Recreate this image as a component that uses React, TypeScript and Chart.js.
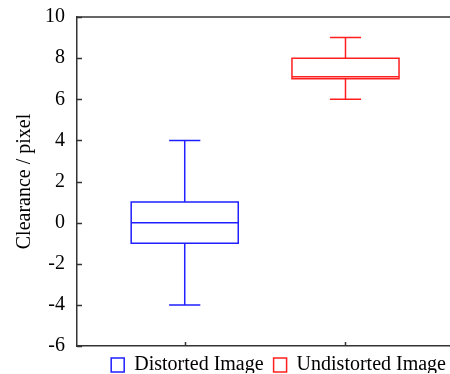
import React, { useEffect, useRef } from "react";
import { Chart, registerables } from "chart.js";

Chart.register(...registerables);

// ---- data ----
const categories = ["Distorted Image", "Undistorted Image"];
const whiskerLow = [-4, 6];
const q1 = [-1, 7];
const median = [0, 7.1];
const q3 = [1, 8];
const whiskerHigh = [4, 9];
const yTicks = [-6, -4, -2, 0, 2, 4, 6, 8, 10];

const colors = ["#1f1fff", "#ff1f1f"];
const axisColor = "#333333";
const FONT = "'Liberation Serif', 'Times New Roman', serif";

const boxPlugin = {
  id: "boxPlot",
  afterLayout(chart: any) {
    // nudge the legend row to the right, as in the reference
    if (chart.legend) {
      chart.legend.left += 6;
      chart.legend.right += 6;
    }
  },
  afterDatasetsDraw(chart: any) {
    const { ctx, chartArea } = chart;
    const xs = chart.scales.x;
    const ys = chart.scales.y;
    ctx.save();
    // top border line
    ctx.strokeStyle = axisColor;
    ctx.lineWidth = 1.5;
    ctx.beginPath();
    ctx.moveTo(chartArea.left, chartArea.top);
    ctx.lineTo(chartArea.right, chartArea.top);
    ctx.stroke();
    // inward ticks on y axis
    ys.ticks.forEach((t: any) => {
      const y = Math.round(ys.getPixelForValue(t.value)) + 0.5;
      ctx.beginPath();
      ctx.moveTo(chartArea.left, y);
      ctx.lineTo(chartArea.left + 5, y);
      ctx.stroke();
    });
    // inward ticks on x axis at categories
    categories.forEach((_, i) => {
      const x = Math.round(xs.getPixelForValue(i + 1)) + 0.5;
      ctx.beginPath();
      ctx.moveTo(x, chartArea.bottom);
      ctx.lineTo(x, chartArea.bottom - 4);
      ctx.stroke();
    });
    // boxes
    categories.forEach((_, i) => {
      const cx = xs.getPixelForValue(i + 1);
      const half = xs.getPixelForValue(i + 1 + 0.333) - cx;
      const capHalf = xs.getPixelForValue(i + 1 + 0.097) - cx;
      const yLo = ys.getPixelForValue(whiskerLow[i]);
      const yQ1 = ys.getPixelForValue(q1[i]);
      const yMed = ys.getPixelForValue(median[i]);
      const yQ3 = ys.getPixelForValue(q3[i]);
      const yHi = ys.getPixelForValue(whiskerHigh[i]);
      ctx.strokeStyle = colors[i];
      ctx.lineWidth = 1.5;
      ctx.beginPath();
      ctx.rect(cx - half, yQ3, half * 2, yQ1 - yQ3);
      ctx.moveTo(cx - half, yMed);
      ctx.lineTo(cx + half, yMed);
      ctx.moveTo(cx, yQ3);
      ctx.lineTo(cx, yHi);
      ctx.moveTo(cx - capHalf, yHi);
      ctx.lineTo(cx + capHalf, yHi);
      ctx.moveTo(cx, yQ1);
      ctx.lineTo(cx, yLo);
      ctx.moveTo(cx - capHalf, yLo);
      ctx.lineTo(cx + capHalf, yLo);
      ctx.stroke();
    });
    ctx.restore();
  },
};

export default function App() {
  const ref = useRef<HTMLCanvasElement>(null);
  useEffect(() => {
    document.body.style.margin = "0";
    const chart = new Chart(ref.current as HTMLCanvasElement, {
      type: "scatter",
      data: {
        datasets: categories.map((c, i) => ({
          label: c,
          data: [],
          backgroundColor: "#ffffff",
          borderColor: colors[i],
          borderWidth: 1.5,
        })),
      },
      options: {
        animation: false,
        responsive: false,
        devicePixelRatio: 1,
        layout: { padding: { top: 17, right: 0, left: 0, bottom: 0 } },
        plugins: {
          tooltip: { enabled: false },
          legend: {
            position: "bottom",
            align: "end",
            fullSize: false,
            maxHeight: 28,
            labels: {
              boxWidth: 13,
              boxHeight: 14,
              padding: 10,
              color: "#000",
              font: { family: FONT, size: 20 },
            },
          },
        },
        scales: {
          x: {
            type: "linear",
            min: 0.33,
            max: 2.65,
            grid: { display: false, drawTicks: false },
            border: { display: true, color: axisColor, width: 1.5 },
            ticks: { display: false },
            afterFit: (s: any) => {
              s.height = -1;
              s.paddingLeft = 0;
              s.paddingRight = 0;
            },
          },
          y: {
            min: -6,
            max: 10,
            afterBuildTicks: (s: any) => {
              s.ticks = yTicks.map((v) => ({ value: v }));
            },
            grid: { display: false, drawTicks: false },
            border: { display: true, color: axisColor, width: 1.5 },
            ticks: {
              padding: 12,
              color: "#000",
              font: { family: FONT, size: 20 },
            },
            title: {
              display: true,
              text: "Clearance / pixel",
              color: "#000",
              font: { family: FONT, size: 20 },
              padding: { top: 13, bottom: 0 },
            },
            afterFit: (s: any) => {
              s.width = 77;
              s.paddingTop = 0;
              s.paddingBottom = 0;
            },
          },
        },
      },
      plugins: [boxPlugin],
    });
    return () => chart.destroy();
  }, []);
  return (
    <div style={{ width: 450, height: 374, overflow: "hidden" }}>
      <canvas ref={ref} width={450} height={374} />
    </div>
  );
}
